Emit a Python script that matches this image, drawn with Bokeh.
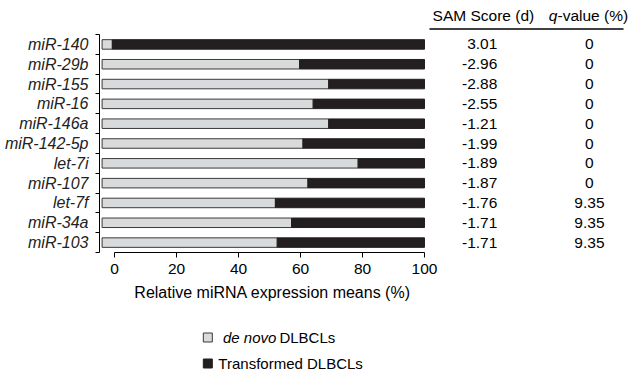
from bokeh.plotting import figure
from bokeh.models import Range1d, FixedTicker, ColumnDataSource
from bokeh.layouts import column
from bokeh.embed import file_html
from bokeh.resources import INLINE
from bokeh.core.properties import value

# ---- data ----
mirnas = ["miR-140", "miR-29b", "miR-155", "miR-16", "miR-146a", "miR-142-5p",
          "let-7i", "miR-107", "let-7f", "miR-34a", "miR-103"]
de_novo = [-0.7, 59.7, 69.1, 64.1, 69.1, 60.8, 78.6, 62.4, 51.9, 57.1, 52.5]
sam_scores = ["3.01", "-2.96", "-2.88", "-2.55", "-1.21", "-1.99", "-1.89",
              "-1.87", "-1.76", "-1.71", "-1.71"]
q_values = ["0", "0", "0", "0", "0", "0", "0", "0", "9.35", "9.35", "9.35"]
x_ticks = [0, 20, 40, 60, 80, 100]
bar_start = -4.0
bar_end = 100

FONT = value("Liberation Sans")
GREY = "#d9dadb"
BLACK = "#231f20"

n = len(mirnas)
ys = [n - 1 - i for i in range(n)]
src = ColumnDataSource(dict(y=ys, name=mirnas, dn=de_novo, sam=sam_scores, q=q_values))

xr = Range1d(-4.84, 166.45)

# ---- main figure ----
p = figure(width=630, height=282, x_range=xr,
           y_range=Range1d(-0.5, 12.216), output_backend="svg",
           toolbar_location=None, min_border_left=99, min_border_right=0,
           min_border_top=0, min_border_bottom=30)
p.outline_line_color = None
p.xgrid.visible = False
p.ygrid.visible = False

p.hbar(y="y", left=bar_start, right="dn", height=0.48, fill_color=GREY,
       line_color="#3a3a3a", line_width=1, source=src)
p.hbar(y="y", left="dn", right=bar_end, height=0.48, fill_color=BLACK,
       line_color=BLACK, line_width=1, source=src)

# x axis
xa = p.xaxis[0]
xa.ticker = FixedTicker(ticks=x_ticks)
xa.bounds = (0, 100)
xa.major_tick_in = 0
xa.major_tick_out = 5
xa.minor_tick_out = 0
xa.minor_tick_in = 0
xa.axis_line_color = "black"
xa.major_tick_line_color = "black"
xa.major_label_text_font = "Liberation Sans"
xa.major_label_text_font_size = "15.5px"
xa.major_label_text_color = "black"
xa.major_label_standoff = 6

# y axis
ya = p.yaxis[0]
ya.ticker = FixedTicker(ticks=ys, minor_ticks=[k - 0.5 for k in range(n + 1)])
ya.bounds = (-0.5, n - 0.5)
ya.major_tick_in = 0
ya.major_tick_out = 0
ya.minor_tick_in = 0
ya.minor_tick_out = 4
ya.minor_tick_line_color = "black"
ya.axis_line_color = "black"
ya.major_label_overrides = {y: nm for y, nm in zip(ys, mirnas)}
ya.major_label_text_font = "Liberation Sans"
ya.major_label_text_font_style = "italic"
ya.major_label_text_font_size = "16px"
ya.major_label_text_color = "#222222"
ya.major_label_standoff = 7

# table
TS = "15.5px"
p.text(x=123.5, y="y", text="sam", source=src, text_align="right",
       text_baseline="middle", text_font=FONT, text_font_size=TS, text_color="black")
p.text(x=153.2, y="y", text="q", source=src, text_align="center",
       text_baseline="middle", text_font=FONT, text_font_size=TS, text_color="black")
p.text(x=[102.6], y=[11.45], text=["SAM Score (d)"], text_align="left",
       text_baseline="middle", text_font=FONT, text_font_size=TS, text_color="black")
p.text(x=[142.9], y=[11.45], text=["q"], text_align="right", text_font_style="italic",
       text_baseline="middle", text_font=FONT, text_font_size=TS, text_color="black")
p.text(x=[142.9], y=[11.45], text=["-value (%)"], text_align="left",
       text_baseline="middle", text_font=FONT, text_font_size=TS, text_color="black")
p.segment(x0=[101.6], y0=[10.778], x1=[164.2], y1=[10.778], line_color="black", line_width=1.5)

# ---- lower figure: axis title + legend ----
q = figure(width=630, height=91, x_range=xr, y_range=Range1d(91, 0),
           output_backend="svg", toolbar_location=None, x_axis_type=None,
           y_axis_type=None, min_border_left=99, min_border_right=0,
           min_border_top=0, min_border_bottom=0)
q.outline_line_color = None
q.xgrid.visible = False
q.ygrid.visible = False
q.text(x=[51], y=[10], text=["Relative miRNA expression means (%)"], text_align="center",
       text_baseline="middle", text_font=FONT, text_font_size="16px", text_color="black")
q.rect(x=[30.1], y=[55], width=9, height=9, width_units="screen", height_units="screen",
       fill_color=GREY, line_color="#3a3a3a", line_width=1)
q.rect(x=[30.1], y=[81], width=9, height=9, width_units="screen", height_units="screen",
       fill_color=BLACK, line_color=BLACK, line_width=1)
LS = "15px"
q.text(x=[35.0], y=[55], text=["de novo"], text_align="left", text_font_style="italic",
       text_baseline="middle", text_font=FONT, text_font_size=LS, text_color="black")
q.text(x=[53.2], y=[55], text=["DLBCLs"], text_align="left",
       text_baseline="middle", text_font=FONT, text_font_size=LS, text_color="black")
q.text(x=[33.5], y=[81], text=["Transformed DLBCLs"], text_align="left",
       text_baseline="middle", text_font=FONT, text_font_size=LS, text_color="black")

layout = column(p, q, spacing=0)
open("out.html", "w").write(file_html(layout, INLINE))
